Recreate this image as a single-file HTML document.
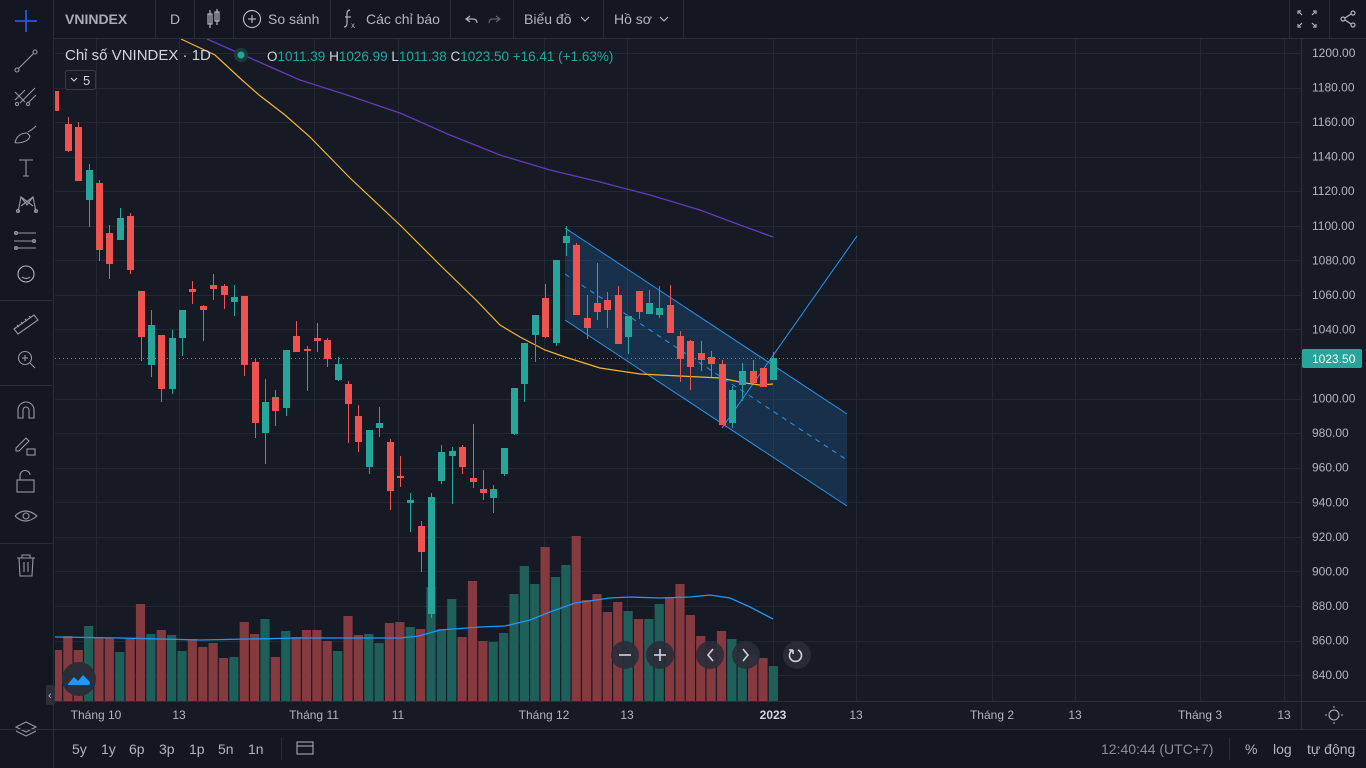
<!DOCTYPE html>
<html><head><meta charset="utf-8"><style>
html,body{margin:0;padding:0;background:#131722;width:1366px;height:768px;overflow:hidden}
svg{display:block}
text{font-family:"Liberation Sans","DejaVu Sans",sans-serif}
</style></head><body>
<svg id="s" width="1366" height="768" viewBox="0 0 1366 768" xmlns="http://www.w3.org/2000/svg">
<rect width="1366" height="768" fill="#131722"/>
<rect x="55" y="39" width="1311" height="690" fill="#161a25"/>
<g id="grid" stroke="#232733" stroke-width="1"></g>
<g id="chart"></g>
<rect x="0" y="0" width="1366" height="38" fill="#131722"/>
<line x1="0" y1="38.5" x2="1366" y2="38.5" stroke="#2a2e39"/>
<rect x="0" y="0" width="53" height="768" fill="#131722"/>
<line x1="53.5" y1="0" x2="53.5" y2="768" stroke="#2a2e39"/>
<g fill="#b2b5be" font-size="14">
<text x="65" y="24" font-weight="bold" fill="#a9acb5">VNINDEX</text>
<text x="170" y="24">D</text>
<text x="268" y="24">So sánh</text>
<text x="366" y="24">Các chỉ báo</text>
<text x="524" y="24">Biểu đồ</text>
<text x="614" y="24">Hồ sơ</text>
</g>
<g stroke="#2a2e39"><line x1="155.5" y1="0" x2="155.5" y2="38"/><line x1="194.5" y1="0" x2="194.5" y2="38"/><line x1="233.5" y1="0" x2="233.5" y2="38"/><line x1="330.5" y1="0" x2="330.5" y2="38"/><line x1="450.5" y1="0" x2="450.5" y2="38"/><line x1="513.5" y1="0" x2="513.5" y2="38"/><line x1="603.5" y1="0" x2="603.5" y2="38"/><line x1="683.5" y1="0" x2="683.5" y2="38"/><line x1="1289.5" y1="0" x2="1289.5" y2="38"/><line x1="1329.5" y1="0" x2="1329.5" y2="38"/></g>
<g stroke="#b2b5be" fill="none" stroke-width="1.2">
<rect x="208" y="14" width="4" height="10"/><line x1="210" y1="10" x2="210" y2="28"/><rect x="215" y="12" width="4" height="9"/><line x1="217" y1="9" x2="217" y2="25"/>
<circle cx="252" cy="19" r="8.5"/><line x1="248" y1="19" x2="256" y2="19"/><line x1="252" y1="15" x2="252" y2="23"/>
<path d="M350 10 q-3 0 -3 4 v9 q0 4 -3 4"/><line x1="345" y1="17" x2="351" y2="17"/>
<path d="M470 16 l-4 3 4 3 M466 19 h7 q4 0 4 4"/>
<path d="M496 16 l4 3 -4 3 M500 19 h-7 q-4 0 -4 4" stroke="#5d606b"/>
<path d="M581 17 l4 4 4 -4"/><path d="M660 17 l4 4 4 -4"/>
<path d="M1301 11 h-3 v3 M1313 11 h3 v3 M1301 27 h-3 v-3 M1313 27 h3 v-3 M1302 15 l-3 -3 M1312 15 l3 -3 M1302 23 l-3 3 M1312 23 l3 3"/>
<circle cx="1343" cy="19" r="2"/><circle cx="1353" cy="13" r="2"/><circle cx="1353" cy="25" r="2"/><line x1="1345" y1="18" x2="1351" y2="14"/><line x1="1345" y1="20" x2="1351" y2="24"/>
</g>
<text x="351" y="28" font-size="8" fill="#b2b5be">x</text>
<g stroke="#2962ff" stroke-width="1.5"><line x1="15" y1="21" x2="37" y2="21"/><line x1="26" y1="10" x2="26" y2="32"/></g>
<g stroke="#9598a1" fill="none" stroke-width="1.1">
<circle cx="17" cy="70" r="2"/><circle cx="35" cy="52" r="2"/><line x1="18.5" y1="68.5" x2="33.5" y2="53.5"/>
<path d="M15 100 l10 -10 M20 103 l15 -15 M28 103 l8 -8 M15 92 l10 10"/><circle cx="17" cy="104" r="1.6"/><circle cx="28" cy="104" r="1.6"/>
<path d="M15 143 q2 -10 12 -10 l3 3 q-2 7 -15 7 M28 132 q4 -2 8 -6"/>
<path d="M19 160 h14 M26 160 v16 M23 176 h6"/>
<path d="M18 212 l3 -15 6 8 6 -8 3 15 M21 197 l12 9 M33 197 l-12 9"/>
<circle cx="18" cy="211" r="1.5"/><circle cx="36" cy="211" r="1.5"/>
<path d="M14 233 h22 M14 241 h22 M14 248 h22"/><circle cx="16" cy="233" r="1.5"/><circle cx="34" cy="241" r="1.5"/><circle cx="16" cy="248" r="1.5"/>
<circle cx="26" cy="274" r="8" stroke="#b2b5be"/><path d="M22 277 q4 3 8 0"/>
<path d="M14 329 l20 -14 4 5 -20 14 z M19 327 l-2 -2 M23 324 l-2 -2 M27 321 l-2 -2 M31 318 l-2 -2"/>
<circle cx="25" cy="358" r="6.5"/><line x1="30" y1="363" x2="35" y2="368"/><line x1="22" y1="358" x2="28" y2="358"/><line x1="25" y1="355" x2="25" y2="361"/>
<path d="M18 418 v-8 a8 8 0 0 1 16 0 v8 h-5 v-8 a3 3 0 0 0 -6 0 v8 z"/>
<path d="M16 448 l10 -10 3 3 -10 10 h-3 z"/><rect x="27" y="449" width="8" height="6"/>
<rect x="17" y="480" width="17" height="12"/><path d="M20 480 v-4 a5 5 0 0 1 10 -1"/>
<path d="M15 516 q10 -10 22 0 q-12 10 -22 0"/><circle cx="26" cy="516" r="3"/>
<path d="M17 558 h18 M22 558 v-3 h8 v3 M19 558 l1 18 h12 l1 -18 M24 562 v10 M28 562 v10"/>
</g>
<g stroke="#2a2e39"><line x1="0" y1="300.5" x2="52" y2="300.5"/><line x1="0" y1="385.5" x2="52" y2="385.5"/><line x1="0" y1="543.5" x2="52" y2="543.5"/></g>
<g stroke="#9598a1" fill="none" stroke-width="1.1"><path d="M26 722 l10 5 -10 5 -10 -5 z M16 731 l10 5 10 -5"/></g>
<text x="65" y="60" font-size="15" fill="#d1d4dc">Chỉ số VNINDEX · 1D</text>
<circle cx="241" cy="55" r="7" fill="#1e3a3c"/><circle cx="241" cy="55" r="3.5" fill="#26a69a"/>
<text x="267" y="61" font-size="13.5" fill="#26a69a"><tspan fill="#d1d4dc">O</tspan>1011.39 <tspan fill="#d1d4dc">H</tspan>1026.99 <tspan fill="#d1d4dc">L</tspan>1011.38 <tspan fill="#d1d4dc">C</tspan>1023.50 +16.41 (+1.63%)</text>
<rect x="65.5" y="70.5" width="30" height="19" rx="2" fill="#161a25" stroke="#363a45"/>
<path d="M71 78 l3 3 3 -3" stroke="#d1d4dc" fill="none"/><text x="83" y="85" font-size="13" fill="#d1d4dc">5</text>
<line x1="1301.5" y1="39" x2="1301.5" y2="729" stroke="#2a2e39"/>
<g id="pax" font-size="12" fill="#b2b5be"></g>
<rect x="1302" y="349" width="60" height="19" rx="2" fill="#26a69a"/>
<text x="1312" y="363" font-size="12" fill="#fff">1023.50</text>
<line x1="55" y1="701.5" x2="1366" y2="701.5" stroke="#2a2e39"/>
<line x1="0" y1="729.5" x2="1366" y2="729.5" stroke="#2a2e39"/>
<g id="tax" font-size="12" fill="#b2b5be"></g>
<circle cx="1334" cy="715" r="5" stroke="#b2b5be" fill="none"/>
<g stroke="#b2b5be"><line x1="1334" y1="706" x2="1334" y2="708"/><line x1="1334" y1="722" x2="1334" y2="724"/><line x1="1325" y1="715" x2="1327" y2="715"/><line x1="1341" y1="715" x2="1343" y2="715"/></g>
<g font-size="14" fill="#b2b5be">
<text x="72" y="754">5y</text><text x="101" y="754">1y</text><text x="129" y="754">6p</text><text x="159" y="754">3p</text><text x="189" y="754">1p</text><text x="218" y="754">5n</text><text x="248" y="754">1n</text>
<text x="1101" y="754" fill="#8a8e99">12:40:44 (UTC+7)</text>
<text x="1245" y="754">%</text><text x="1273" y="754">log</text><text x="1307" y="754">tự động</text>
</g>
<line x1="281.5" y1="738" x2="281.5" y2="760" stroke="#2a2e39"/><line x1="1229.5" y1="738" x2="1229.5" y2="760" stroke="#2a2e39"/>
<g stroke="#b2b5be" fill="none"><rect x="297" y="742" width="16" height="12"/><line x1="297" y1="746" x2="313" y2="746"/></g>
<circle cx="79" cy="679" r="17" fill="#2a2e39"/>
<path d="M68 684 l6 -7 4 4 5 -6 6 6 q2 2 0 4 h-21 z" fill="#2196f3"/>
<rect x="46" y="685" width="9" height="20" rx="2" fill="#2a2e39"/><text x="48" y="699" font-size="11" fill="#b2b5be">‹</text>
<g fill="#2a2e39" fill-opacity="0.9"><circle cx="625" cy="655" r="14"/><circle cx="660" cy="655" r="14"/><circle cx="710" cy="655" r="14"/><circle cx="746" cy="655" r="14"/><circle cx="797" cy="655" r="14"/></g>
<g stroke="#d1d4dc" stroke-width="1.6" fill="none"><line x1="619" y1="655" x2="631" y2="655"/><line x1="654" y1="655" x2="666" y2="655"/><line x1="660" y1="649" x2="660" y2="661"/><path d="M713 649 l-5 6 5 6"/><path d="M743 649 l5 6 -5 6"/><path d="M793 650 a6 6 0 1 0 5 0 M793 650 v4 M793 650 h-4"/></g>
</svg>
<script>
var NS="http://www.w3.org/2000/svg";
function el(p,t,a,txt){var e=document.createElementNS(NS,t);for(var k in a)e.setAttribute(k,a[k]);if(txt!=null)e.textContent=txt;document.getElementById(p).appendChild(e);return e;}
for(var i=0;i<19;i++){var p=1200-i*20;var y=53+i*34.56;el('grid','line',{x1:55,x2:1301,y1:Math.round(y)+.5,y2:Math.round(y)+.5});
 if(p!=1020)el('pax','text',{x:1312,y:y+4},p.toFixed(2));}
var tl=[[96,"Tháng 10"],[179,"13"],[314,"Tháng 11"],[398,"11"],[544,"Tháng 12"],[627,"13"],[773,"2023"],[856,"13"],[992,"Tháng 2"],[1075,"13"],[1200,"Tháng 3"],[1284,"13"]];
tl.forEach(function(t){el('grid','line',{x1:t[0]+.5,x2:t[0]+.5,y1:39,y2:701});el('tax','text',{x:t[0],y:719,'text-anchor':'middle','font-weight':t[1]=="2023"?'bold':'normal',fill:t[1]=="2023"?'#d1d4dc':'#b2b5be'},t[1]);});
var C=[[91,111,91,111,'r'],[124,151,117,152,'r'],[127,181,122,181,'r'],[170,200,164,227,'g'],[183,250,180,261,'r'],[233,264,225,279,'r'],[218,240,208,240,'g'],[216,270,213,274,'r'],[291,337,291,361,'r'],[325,365,310,377,'g'],[335,389,335,402,'r'],[338,389,330,394,'g'],[310,338,310,356,'g'],[289,292,281,304,'r'],[306,310,305,341,'r'],[285,289,274,300,'r'],[286,295,284,309,'r'],[297,302,285,316,'g'],[296,365,296,376,'r'],[362,423,358,438,'r'],[402,433,379,464,'g'],[397,411,390,426,'r'],[350,408,350,416,'g'],[336,352,321,352,'r'],[349,351,346,391,'r'],[338,341,323,352,'r'],[340,359,338,367,'r'],[364,380,357,381,'g'],[384,404,381,443,'r'],[416,442,405,452,'r'],[430,467,430,474,'g'],[423,428,407,437,'g'],[442,491,439,510,'r'],[476,478,456,487,'r'],[500,503,493,532,'g'],[526,552,521,572,'r'],[497,614,493,618,'g'],[452,481,445,484,'g'],[451,456,447,504,'g'],[447,467,445,474,'r'],[478,482,424,488,'r'],[489,493,470,500,'r'],[489,498,485,513,'g'],[448,474,448,476,'g'],[388,434,388,435,'g'],[343,384,343,402,'g'],[315,335,315,362,'g'],[298,337,284,338,'r'],[260,343,260,346,'g'],[236,243,226,256,'g'],[245,315,243,315,'r'],[318,328,295,339,'r'],[303,312,263,320,'r'],[300,310,292,328,'r'],[295,344,286,344,'r'],[316,337,316,354,'g'],[291,312,291,319,'r'],[303,314,290,314,'g'],[308,315,286,318,'g'],[305,333,285,333,'r'],[336,359,331,382,'r'],[341,367,340,390,'r'],[353,360,341,371,'r'],[357,364,351,377,'r'],[364,425,360,425,'r'],[390,423,386,428,'g'],[371,385,363,401,'g'],[371,383,360,383,'r'],[368,387,368,387,'r'],[358,380,352,380,'g']];
var V=[650,636,650,626,638,638,652,639,604,634,630,635,651,639,647,643,658,657,622,634,619,657,631,637,630,630,641,651,616,635,634,643,623,622,627,629,587,629,599,637,581,641,642,633,594,566,584,547,577,565,536,600,594,612,602,611,619,619,604,597,584,615,636,649,631,639,652,655,658,666];
function X(i){return 57.5+i*10.375;}
V.forEach(function(t,i){var x=X(i);var col=(C[i][4]=='g')?'#1f5f5a':'#843a3e';el('chart','rect',{x:Math.max(55,x-4.6),y:t,width:(i==0?x+4.6-55:9.2),height:701-t,fill:col});});
function poly(pts,st,w){el('chart','polyline',{points:pts.map(function(p){return p.join(',')}).join(' '),fill:'none',stroke:st,'stroke-width':w});}
poly([[55,637],[120,638],[200,640],[300,638],[400,638],[419,636],[440,630],[480,627],[505,626],[530,620],[550,612],[575,603],[610,598],[630,597],[660,598],[690,597],[710,595],[730,598],[750,607],[773,619]],'#2196f3',1.3);
el('chart','polygon',{points:'565,228 847,414 847,506 565,320',fill:'rgba(33,150,243,0.18)',stroke:'none'});
el('chart','line',{x1:565,y1:228,x2:847,y2:414,stroke:'#2196f3','stroke-width':1});
el('chart','line',{x1:565,y1:320,x2:847,y2:506,stroke:'#2196f3','stroke-width':1});
el('chart','line',{x1:565,y1:274,x2:847,y2:460,stroke:'#2196f3','stroke-width':1,'stroke-dasharray':'5,5'});
el('chart','line',{x1:722,y1:428,x2:857,y2:236,stroke:'#2196f3','stroke-width':1});
poly([[181,39],[215,55],[242,80],[259,95],[285,115],[310,137],[350,178],[400,225],[440,265],[476,300],[500,325],[520,337],[545,350],[565,357],[600,368],[640,374],[680,376],[720,378],[745,383],[760,385],[773,384]],'#f7b52c',1.2);
poly([[207,39],[250,58],[300,80],[350,96],[400,113],[450,135],[500,155],[550,170],[600,182],[650,195],[700,210],[740,225],[773,237]],'#673ab7',1.3);
el('chart','line',{x1:55,y1:358.5,x2:1301,y2:358.5,stroke:'#26a69a','stroke-width':1,'stroke-dasharray':'1,3'});
C.forEach(function(d,i){var x=X(i);var col=d[4]=='g'?'#26a69a':'#ef5350';
 el('chart','line',{x1:Math.round(x)+.5,x2:Math.round(x)+.5,y1:d[2],y2:d[3],stroke:col,'stroke-width':1});
 var bx=Math.round(x)-3;el('chart','rect',{x:Math.max(55,bx),y:d[0],width:i==0?3:7,height:Math.max(2,d[1]-d[0]),fill:col});});
</script>
</body></html>
